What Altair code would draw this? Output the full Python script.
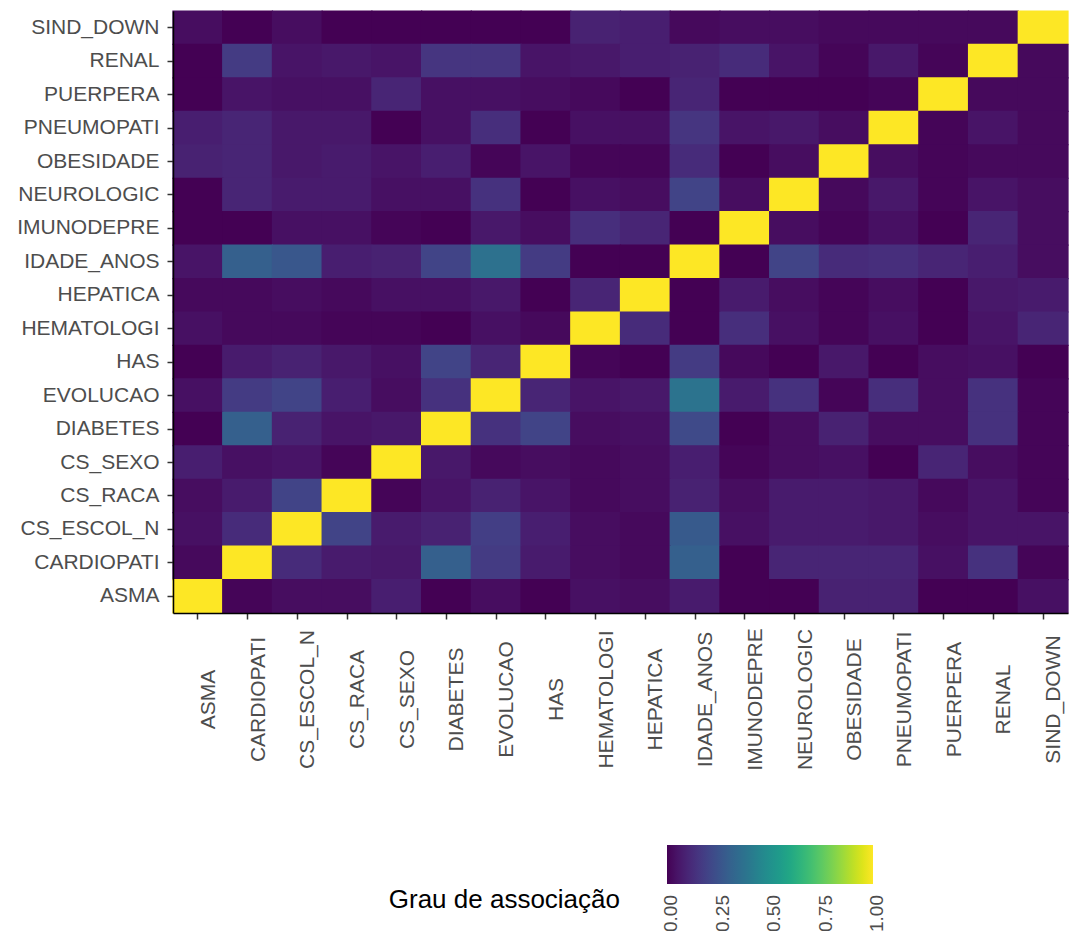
import altair as alt
import pandas as pd

variables = ["ASMA", "CARDIOPATI", "CS_ESCOL_N", "CS_RACA", "CS_SEXO", "DIABETES",
             "EVOLUCAO", "HAS", "HEMATOLOGI", "HEPATICA", "IDADE_ANOS", "IMUNODEPRE",
             "NEUROLOGIC", "OBESIDADE", "PNEUMOPATI", "PUERPERA", "RENAL", "SIND_DOWN"]

# one list per row variable (values along the column variables above)
row_SIND_DOWN = [0.03, 0.00, 0.03, 0.00, 0.00, 0.00, 0.00, 0.00, 0.09, 0.08, 0.02, 0.03, 0.03, 0.02, 0.02, 0.02, 0.02, 1.00]
row_RENAL = [0.00, 0.17, 0.05, 0.06, 0.05, 0.15, 0.15, 0.05, 0.06, 0.08, 0.09, 0.12, 0.05, 0.01, 0.06, 0.01, 1.00, 0.02]
row_PUERPERA = [0.00, 0.05, 0.04, 0.04, 0.10, 0.04, 0.04, 0.03, 0.02, 0.00, 0.10, 0.00, 0.00, 0.00, 0.01, 1.00, 0.02, 0.02]
row_PNEUMOPATI = [0.08, 0.10, 0.06, 0.06, 0.00, 0.04, 0.13, 0.00, 0.04, 0.04, 0.15, 0.05, 0.06, 0.03, 1.00, 0.01, 0.05, 0.02]
row_OBESIDADE = [0.09, 0.10, 0.06, 0.07, 0.05, 0.08, 0.01, 0.05, 0.01, 0.01, 0.12, 0.00, 0.03, 1.00, 0.03, 0.01, 0.02, 0.02]
row_NEUROLOGIC = [0.00, 0.10, 0.07, 0.07, 0.04, 0.04, 0.14, 0.00, 0.04, 0.03, 0.20, 0.03, 1.00, 0.02, 0.06, 0.01, 0.05, 0.03]
row_IMUNODEPRE = [0.00, 0.00, 0.04, 0.04, 0.01, 0.00, 0.06, 0.03, 0.13, 0.10, 0.00, 1.00, 0.03, 0.01, 0.04, 0.00, 0.10, 0.03]
row_IDADE_ANOS = [0.05, 0.30, 0.27, 0.08, 0.09, 0.20, 0.37, 0.17, 0.00, 0.00, 1.00, 0.00, 0.20, 0.12, 0.13, 0.10, 0.08, 0.03]
row_HEPATICA = [0.02, 0.02, 0.03, 0.02, 0.04, 0.04, 0.06, 0.00, 0.10, 1.00, 0.00, 0.07, 0.03, 0.01, 0.03, 0.00, 0.06, 0.07]
row_HEMATOLOGI = [0.04, 0.02, 0.02, 0.01, 0.01, 0.00, 0.04, 0.02, 1.00, 0.12, 0.00, 0.13, 0.04, 0.01, 0.04, 0.00, 0.05, 0.10]
row_HAS = [0.00, 0.07, 0.09, 0.06, 0.04, 0.20, 0.10, 1.00, 0.01, 0.00, 0.17, 0.02, 0.00, 0.06, 0.00, 0.03, 0.04, 0.00]
row_EVOLUCAO = [0.04, 0.17, 0.20, 0.08, 0.03, 0.14, 1.00, 0.10, 0.05, 0.06, 0.38, 0.07, 0.14, 0.01, 0.13, 0.03, 0.14, 0.01]
row_DIABETES = [0.00, 0.30, 0.09, 0.05, 0.06, 1.00, 0.14, 0.20, 0.03, 0.04, 0.22, 0.00, 0.03, 0.09, 0.03, 0.03, 0.14, 0.01]
row_CS_SEXO = [0.08, 0.04, 0.05, 0.01, 1.00, 0.06, 0.02, 0.03, 0.02, 0.03, 0.08, 0.01, 0.03, 0.04, 0.00, 0.10, 0.03, 0.01]
row_CS_RACA = [0.03, 0.07, 0.20, 1.00, 0.01, 0.05, 0.09, 0.05, 0.02, 0.03, 0.09, 0.03, 0.07, 0.07, 0.06, 0.02, 0.05, 0.01]
row_CS_ESCOL_N = [0.04, 0.12, 1.00, 0.20, 0.07, 0.09, 0.18, 0.08, 0.03, 0.02, 0.28, 0.04, 0.07, 0.07, 0.06, 0.03, 0.05, 0.05]
row_CARDIOPATI = [0.02, 1.00, 0.12, 0.07, 0.06, 0.30, 0.17, 0.07, 0.03, 0.02, 0.30, 0.00, 0.10, 0.10, 0.10, 0.04, 0.14, 0.01]
row_ASMA = [1.00, 0.01, 0.03, 0.03, 0.08, 0.00, 0.03, 0.00, 0.04, 0.03, 0.07, 0.00, 0.00, 0.09, 0.09, 0.00, 0.00, 0.04]

legend_title = "Grau de associação"
legend_values = [0.0, 0.25, 0.5, 0.75, 1.0]
inner_ticks = [0.25, 0.5, 0.75]

rows = {
    "SIND_DOWN": row_SIND_DOWN, "RENAL": row_RENAL, "PUERPERA": row_PUERPERA,
    "PNEUMOPATI": row_PNEUMOPATI, "OBESIDADE": row_OBESIDADE, "NEUROLOGIC": row_NEUROLOGIC,
    "IMUNODEPRE": row_IMUNODEPRE, "IDADE_ANOS": row_IDADE_ANOS, "HEPATICA": row_HEPATICA,
    "HEMATOLOGI": row_HEMATOLOGI, "HAS": row_HAS, "EVOLUCAO": row_EVOLUCAO,
    "DIABETES": row_DIABETES, "CS_SEXO": row_CS_SEXO, "CS_RACA": row_CS_RACA,
    "CS_ESCOL_N": row_CS_ESCOL_N, "CARDIOPATI": row_CARDIOPATI, "ASMA": row_ASMA,
}

records = []
for yname, vals in rows.items():
    for xname, v in zip(variables, vals):
        records.append({"x": xname, "y": yname, "v": v})
df = pd.DataFrame(records)
df_ticks = pd.DataFrame({"t": legend_values})
df_inner = pd.DataFrame({"t": inner_ticks})
df_title = pd.DataFrame({"label": [legend_title]})

FONT = "Liberation Sans"
W, H = 895, 602
GRAD_X, GRAD_Y, GRAD_LEN, GRAD_TH = 494, 834, 206, 39

heat = alt.Chart(df).mark_rect(
    strokeWidth=0,
    width=alt.RelativeBandSize(band=1.025),
    height=alt.RelativeBandSize(band=1.035),
).encode(
    x=alt.X("x:N", sort=variables, title=None,
            scale=alt.Scale(paddingInner=0, paddingOuter=0),
            axis=alt.Axis(labelAngle=-90, labelAlign="center", labelBaseline="top",
                          labelPadding=80, tickSize=6, tickWidth=1.5, tickColor="#333333",
                          domainColor="black", domainWidth=1.5, labelColor="#4d4d4d",
                          labelFontSize=21, labelFont=FONT, grid=False, labelOverlap=False)),
    y=alt.Y("y:N", sort=variables[::-1], title=None,
            scale=alt.Scale(paddingInner=0, paddingOuter=0),
            axis=alt.Axis(labelPadding=8, tickSize=6, tickWidth=1.5, tickColor="#333333",
                          domainColor="black", domainWidth=1.5, labelColor="#4d4d4d",
                          labelFontSize=21, labelFont=FONT, grid=False, labelOverlap=False)),
    color=alt.Color("v:Q", scale=alt.Scale(scheme="viridis", domain=[0, 1]),
                    legend=alt.Legend(
                        type="gradient", title=None, orient="none",
                        legendX=GRAD_X, legendY=GRAD_Y,
                        padding=0, direction="horizontal", gradientLength=GRAD_LEN,
                        gradientThickness=GRAD_TH, gradientStrokeWidth=0,
                        values=legend_values, labelExpr="''")),
)

lo = -GRAD_X / GRAD_LEN
hi = lo + W / GRAD_LEN
xs = alt.Scale(domain=[lo, hi], nice=False, zero=False)

tick_labels = alt.Chart(df_ticks).mark_text(
    angle=270, align="right", baseline="middle", fontSize=19, font=FONT, color="#4d4d4d",
    dy=4
).encode(
    x=alt.X("t:Q", scale=xs, axis=None),
    y=alt.value(GRAD_Y + GRAD_TH + 11),
    text=alt.Text("t:Q", format=".2f"),
)

ticks_top = alt.Chart(df_inner).mark_rule(color="white", strokeWidth=1.2).encode(
    x=alt.X("t:Q", scale=xs, axis=None),
    y=alt.value(GRAD_Y),
    y2=alt.value(GRAD_Y + 8),
)
ticks_bottom = alt.Chart(df_inner).mark_rule(color="white", strokeWidth=1.2).encode(
    x=alt.X("t:Q", scale=xs, axis=None),
    y=alt.value(GRAD_Y + GRAD_TH - 8),
    y2=alt.value(GRAD_Y + GRAD_TH),
)

title = alt.Chart(df_title).mark_text(
    align="right", baseline="middle", fontSize=26, font=FONT, color="black"
).encode(
    x=alt.value(GRAD_X - 47),
    y=alt.value(GRAD_Y + 55),
    text="label:N",
)

chart = alt.layer(heat, ticks_top, ticks_bottom, tick_labels, title).resolve_scale(
    x="independent"
).properties(
    width=W, height=H,
    autosize=alt.AutoSizeParams(type="none"),
    padding={"left": 165, "top": 3, "right": 2, "bottom": 318},
).configure_view(stroke=None)

chart.save("out.html", embed_options={"renderer": "svg", "actions": False})
